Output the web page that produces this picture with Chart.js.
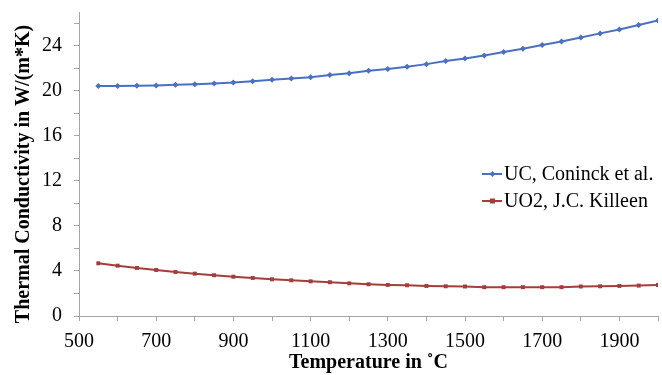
<!DOCTYPE html>
<html><head><meta charset="utf-8">
<script src="https://cdn.jsdelivr.net/npm/chart.js@4.4.1/dist/chart.umd.min.js"></script>
<style>html,body{margin:0;padding:0;background:#fff}#wrap{width:662px;height:375px}</style>
</head><body><div id="wrap"><canvas id="c" width="662" height="375"></canvas></div>
<script>
const temps = [550,600,650,700,750,800,850,900,950,1000,1050,1100,1150,1200,1250,1300,1350,1400,1450,1500,1550,1600,1650,1700,1750,1800,1850,1900,1950,2000];
const ucValues = [20.42,20.42,20.44,20.47,20.53,20.59,20.65,20.74,20.86,20.98,21.1,21.2,21.4,21.57,21.78,21.93,22.13,22.37,22.64,22.87,23.14,23.44,23.73,24.06,24.38,24.74,25.1,25.45,25.84,26.25];
const uo2Values = [4.68,4.47,4.27,4.09,3.91,3.76,3.62,3.49,3.38,3.26,3.17,3.08,3.0,2.9,2.82,2.76,2.73,2.67,2.64,2.62,2.56,2.56,2.56,2.56,2.56,2.62,2.64,2.67,2.7,2.76];
const seriesNames = ['UC, Coninck et al.', 'UO2, J.C. Killeen'];
const xLabels = [500,700,900,1100,1300,1500,1700,1900];
const yLabels = [0,4,8,12,16,20,24];

const serif = '"Liberation Serif","Times New Roman",serif';
const axisGray = '#a6a6a6';

const legendPlugin = {
  id: 'floatLegend',
  afterDraw(chart) {
    const ctx = chart.ctx;
    const x0 = 482, ys = [174, 201];
    chart.data.datasets.forEach((ds, i) => {
      const y = ys[i];
      ctx.save();
      ctx.strokeStyle = ds.borderColor; ctx.lineWidth = 2;
      ctx.beginPath(); ctx.moveTo(x0, y); ctx.lineTo(x0 + 20, y); ctx.stroke();
      ctx.fillStyle = ds.borderColor;
      if (ds.pointStyle === 'rect') { ctx.fillRect(x0 + 8, y - 2.5, 5, 5); }
      else { ctx.beginPath(); ctx.moveTo(x0+10.5,y-3); ctx.lineTo(x0+13.5,y); ctx.lineTo(x0+10.5,y+3); ctx.lineTo(x0+7.5,y); ctx.closePath(); ctx.fill(); }
      ctx.fillStyle = '#000'; ctx.font = '20px ' + serif; ctx.textBaseline = 'middle'; ctx.textAlign = 'left';
      ctx.fillText(ds.label, x0 + 22, y + 1);
      ctx.restore();
    });
  }
};

new Chart(document.getElementById('c'), {
  type: 'line',
  data: {
    datasets: [
      { label: seriesNames[0], data: temps.map((t, i) => ({x: t, y: ucValues[i]})), borderColor: '#4A70C0', backgroundColor: '#4A70C0', borderWidth: 2, pointStyle: 'rectRot', pointRadius: 3, pointBorderWidth: 0, tension: 0 },
      { label: seriesNames[1], data: temps.map((t, i) => ({x: t, y: uo2Values[i]})), borderColor: '#A23E3B', backgroundColor: '#A23E3B', borderWidth: 2, pointStyle: 'rect', pointRadius: 2.8, pointBorderWidth: 0, tension: 0 }
    ]
  },
  options: {
    responsive: false, animation: false,
    layout: { padding: { left: 12, right: 2, top: 12, bottom: 0 } },
    plugins: { legend: { display: false }, tooltip: { enabled: false } },
    scales: {
      x: {
        type: 'linear', min: 500, max: 2000,
        afterBuildTicks(s) { const t = []; for (let v = 500; v <= 2000; v += 100) t.push({value: v}); s.ticks = t; },
        afterFit(s) { s.height = 59; s.paddingLeft = 0; s.paddingRight = 0; },
        ticks: { font: { family: serif, size: 20 }, color: '#000', padding: 9, maxRotation: 0, autoSkip: false,
          callback: v => xLabels.includes(v) ? String(v) : '' },
        grid: { drawOnChartArea: false, drawTicks: true, tickLength: 5, color: axisGray, tickColor: axisGray },
        border: { color: axisGray, width: 1 },
        title: { display: true, text: 'Temperature in \u02DAC', font: { family: serif, size: 20, weight: 'bold' }, color: '#000', padding: { top: 0, bottom: 0 } }
      },
      y: {
        min: 0, max: 27,
        afterBuildTicks(s) { const t = []; for (let v = 0; v <= 26; v += 2) t.push({value: v}); s.ticks = t; },
        afterFit(s) { s.width = 67; s.paddingTop = 0; s.paddingBottom = 0; },
        ticks: { font: { family: serif, size: 20 }, color: '#000', padding: 12, autoSkip: false,
          callback: v => yLabels.includes(v) ? String(v) : '' },
        grid: { drawOnChartArea: false, drawTicks: true, tickLength: 5, color: axisGray, tickColor: axisGray },
        border: { color: axisGray, width: 1 },
        title: { display: true, text: 'Thermal Conductivity in W/(m*K)    ', font: { family: serif, size: 20, weight: 'bold' }, color: '#000', padding: { top: 0, bottom: 0 } }
      }
    }
  },
  plugins: [legendPlugin]
});
</script></body></html>
